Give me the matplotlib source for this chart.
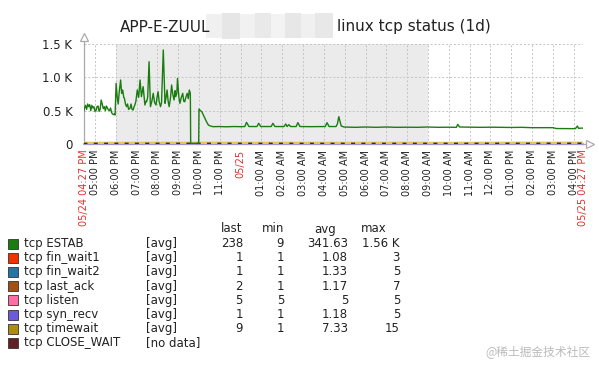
import matplotlib
matplotlib.use("Agg")
import matplotlib.pyplot as plt
from matplotlib.patches import Rectangle
import pandas as pd

# ---------------- data ----------------
title_left = "APP-E-ZUUL"
title_right = "linux tcp status (1d)"
range_start = "2023-05-24 16:27"
range_end = "2023-05-25 16:27"
work_off_start = "2023-05-24 18:00"
work_off_end = "2023-05-25 09:00"

estab_times = [
    "05-24 16:27", "05-24 16:30", "05-24 16:33", "05-24 16:36", "05-24 16:39", "05-24 16:42",
    "05-24 16:45", "05-24 16:48", "05-24 16:51", "05-24 16:54", "05-24 16:57", "05-24 17:00",
    "05-24 17:03", "05-24 17:06", "05-24 17:09", "05-24 17:12", "05-24 17:15", "05-24 17:18",
    "05-24 17:21", "05-24 17:24", "05-24 17:27", "05-24 17:30", "05-24 17:33", "05-24 17:36",
    "05-24 17:39", "05-24 17:42", "05-24 17:45", "05-24 17:48", "05-24 17:51", "05-24 17:54",
    "05-24 17:56", "05-24 17:58", "05-24 18:01", "05-24 18:04", "05-24 18:07", "05-24 18:10",
    "05-24 18:14", "05-24 18:17", "05-24 18:20", "05-24 18:23", "05-24 18:25", "05-24 18:28",
    "05-24 18:31", "05-24 18:34", "05-24 18:37", "05-24 18:41", "05-24 18:44", "05-24 18:47",
    "05-24 18:50", "05-24 18:53", "05-24 18:55", "05-24 18:58", "05-24 19:02", "05-24 19:06",
    "05-24 19:10", "05-24 19:14", "05-24 19:17", "05-24 19:19", "05-24 19:22", "05-24 19:24",
    "05-24 19:27", "05-24 19:29", "05-24 19:32", "05-24 19:36", "05-24 19:40", "05-24 19:44",
    "05-24 19:48", "05-24 19:52", "05-24 19:56", "05-24 19:59", "05-24 20:02", "05-24 20:05",
    "05-24 20:09", "05-24 20:12", "05-24 20:17", "05-24 20:22", "05-24 20:25", "05-24 20:28",
    "05-24 20:31", "05-24 20:34", "05-24 20:38", "05-24 20:41", "05-24 20:44", "05-24 20:48",
    "05-24 20:51", "05-24 20:53", "05-24 20:56", "05-24 20:58", "05-24 21:02", "05-24 21:05",
    "05-24 21:09", "05-24 21:13", "05-24 21:16", "05-24 21:19", "05-24 21:22", "05-24 21:26",
    "05-24 21:29", "05-24 21:32", "05-24 21:35", "05-24 21:36", "05-24 21:59", "05-24 22:00",
    "05-24 22:04", "05-24 22:08", "05-24 22:12", "05-24 22:17", "05-24 22:22", "05-24 22:27",
    "05-24 22:33", "05-24 22:40", "05-24 23:00", "05-24 23:20", "05-24 23:40", "05-25 00:00",
    "05-25 00:12", "05-25 00:17", "05-25 00:24", "05-25 00:47", "05-25 00:52", "05-25 00:58",
    "05-25 01:28", "05-25 01:33", "05-25 01:39", "05-25 02:05", "05-25 02:10", "05-25 02:14",
    "05-25 02:19", "05-25 02:24", "05-25 02:40", "05-25 02:45", "05-25 02:51", "05-25 03:20",
    "05-25 03:50", "05-25 04:04", "05-25 04:09", "05-25 04:15", "05-25 04:35", "05-25 04:39",
    "05-25 04:43", "05-25 04:50", "05-25 04:58", "05-25 05:30", "05-25 06:00", "05-25 06:30",
    "05-25 07:00", "05-25 07:30", "05-25 08:00", "05-25 08:30", "05-25 09:00", "05-25 09:30",
    "05-25 10:00", "05-25 10:22", "05-25 10:26", "05-25 10:31", "05-25 11:00", "05-25 11:30",
    "05-25 12:00", "05-25 12:30", "05-25 13:00", "05-25 13:30", "05-25 14:00", "05-25 14:30",
    "05-25 15:00", "05-25 15:10", "05-25 15:40", "05-25 16:05", "05-25 16:11", "05-25 16:14",
    "05-25 16:20", "05-25 16:27",
]
estab_values = [
    485, 540, 580, 520, 600, 560,
    590, 500, 580, 540, 560, 490,
    500, 560, 570, 490, 520, 660,
    600, 530, 560, 500, 570, 540,
    510, 500, 540, 470, 450, 440,
    450, 435, 910, 710, 600, 780,
    960, 760, 810, 700, 685, 600,
    560, 600, 520, 535, 600, 520,
    510, 560, 585, 640, 810, 700,
    960, 710, 800, 860, 700, 585,
    640, 635, 700, 1235, 560, 640,
    760, 620, 585, 700, 785, 640,
    560, 620, 1410, 610, 700, 810,
    640, 560, 700, 885, 760, 660,
    800, 710, 760, 985, 700, 610,
    700, 760, 640, 635, 700, 760,
    680, 810, 760, 10, 10, 525,
    500, 485, 440, 385, 330, 285,
    270, 260, 262, 258, 262, 260,
    262, 325, 262, 262, 310, 262,
    262, 310, 262, 262, 300, 262,
    290, 262, 262, 320, 262, 260,
    262, 262, 320, 262, 262, 300,
    410, 270, 255, 250, 255, 250,
    255, 250, 252, 250, 255, 250,
    252, 250, 295, 255, 252, 250,
    252, 250, 248, 250, 245, 245,
    245, 232, 230, 230, 270, 235,
    238, 238,
]

small_times = ["05-24 16:27", "05-24 22:00", "05-25 04:00", "05-25 10:00", "05-25 16:27"]
fin_wait1 = [1, 1, 1, 1, 1]
fin_wait2 = [1, 1, 1, 1, 1]
last_ack = [1, 1, 1, 1, 2]
listen = [5, 5, 5, 5, 5]
syn_recv = [1, 1, 1, 1, 1]
timewait = [7, 8, 7, 7, 9]

legend_names = ["tcp ESTAB", "tcp fin_wait1", "tcp fin_wait2", "tcp last_ack",
                "tcp listen", "tcp syn_recv", "tcp timewait", "tcp CLOSE_WAIT"]
legend_func = ["[avg]", "[avg]", "[avg]", "[avg]", "[avg]", "[avg]", "[avg]", "[no data]"]
legend_colors = ["#1A7C11", "#F63100", "#2774A4", "#A54F10",
                 "#FC6EA3", "#6C59DC", "#AC8C14", "#611F27"]
col_last = ["238", "1", "1", "2", "5", "1", "9", ""]
col_min = ["9", "1", "1", "1", "5", "1", "1", ""]
col_avg = ["341.63", "1.08", "1.33", "1.17", "5", "1.18", "7.33", ""]
col_max = ["1.56 K", "3", "5", "7", "5", "5", "15", ""]

y_ticks = [0, 500, 1000, 1500]
y_tick_labels = ["0", "0.5 K", "1.0 K", "1.5 K"]
watermark = "@稀土掘金技术社区"


def to_dt(lst):
    return pd.to_datetime(["2023-" + s for s in lst], format="%Y-%m-%d %H:%M")


# ---------------- figure ----------------
W, H = 599, 370
fig = plt.figure(figsize=(W / 100, H / 100), dpi=100)
fig.patch.set_facecolor("white")

def fx(px):
    return px / W

def fy(py):
    return 1 - py / H

ax = fig.add_axes([fx(83.5), fy(144), fx(583) - fx(83.5), fy(44) - fy(144)])
t0 = pd.Timestamp(range_start)
t1 = pd.Timestamp(range_end)
ax.set_xlim(t0, t1)
ax.set_ylim(0, 1500)
ax.set_facecolor("white")

# work-off shading
ax.axvspan(pd.Timestamp(work_off_start), pd.Timestamp(work_off_end),
           color="#ebebeb", zorder=0, lw=0)

# grid
grid_kw = dict(color="#c4c4c4", lw=0.7, ls=(0, (2, 2)), zorder=1)
hours = pd.date_range("2023-05-24 17:00", "2023-05-25 16:00", freq="1h")
for h in hours:
    ax.axvline(h, **grid_kw)
ax.axvline(t1, **grid_kw)
for yv in y_ticks[1:]:
    ax.axhline(yv, **grid_kw)

# series
st = to_dt(small_times)
ax.plot(st, syn_recv, color="#9a8ee8", lw=1.2, zorder=3, clip_on=False)
ax.plot(st, fin_wait1, color=legend_colors[1], lw=0.8, zorder=3)
ax.plot(st, fin_wait2, color=legend_colors[2], lw=0.8, zorder=3)
ax.plot(st, last_ack, color=legend_colors[3], lw=0.8, zorder=3)
ax.plot(st, listen, color=legend_colors[4], lw=0.8, zorder=3)
ax.plot(st, timewait, color="#e8c45a", lw=2.6, zorder=4)
ax.plot(st, timewait, color="#3a3020", lw=1.3, ls=(0, (2.2, 3.5)), zorder=5)
ax.plot(to_dt(estab_times), estab_values, color=legend_colors[0], lw=1.0, zorder=6)

# spines
for s in ["top", "right"]:
    ax.spines[s].set_visible(False)
for s in ["left", "bottom"]:
    ax.spines[s].set_color("#aaaaaa")
    ax.spines[s].set_linewidth(0.9)
ax.plot([0, 0], [1.0, 1.06], transform=ax.transAxes, color="#aaaaaa", lw=0.9, clip_on=False)
ax.plot([0], [1.07], transform=ax.transAxes, marker="^", ms=6, mfc="white",
        mec="#aaaaaa", mew=0.9, clip_on=False)
ax.plot([1.0, 1.012], [0, 0], transform=ax.transAxes, color="#aaaaaa", lw=0.9, clip_on=False)
ax.plot([1.015], [0], transform=ax.transAxes, marker=">", ms=6, mfc="white",
        mec="#aaaaaa", mew=0.9, clip_on=False)

# y ticks
ax.set_yticks(y_ticks)
ax.set_yticklabels(y_tick_labels, fontsize=8.5, color="#222222")
ax.tick_params(axis="y", length=0, pad=8)

# x ticks
red = "#e0302f"
ticks = [t0] + list(hours) + [t1]
labels = []
colors = []
for t in ticks:
    if t == t0 or t == t1:
        labels.append(t.strftime("%m/%d %I:%M %p"))
        colors.append(red)
    elif t.hour == 0:
        labels.append(t.strftime("%m/%d"))
        colors.append(red)
    else:
        labels.append(t.strftime("%I:%M %p"))
        colors.append("#222222")
ax.set_xticks(ticks)
ax.set_xticklabels(labels, rotation=90, fontsize=7, va="top", ha="center")
for lab, c in zip(ax.get_xticklabels(), colors):
    lab.set_color(c)
ax.tick_params(axis="x", length=0, pad=4)

# title with blurred part
fig.text(fx(120), fy(27), title_left, fontsize=11, color="#222222", va="center", ha="left")
fig.text(fx(337), fy(27), title_right, fontsize=11, color="#222222", va="center", ha="left")
blur = [(206, 14, 20, 24, "#f0f0f0"), (222, 13, 18, 26, "#e6e6e6"), (240, 14, 16, 24, "#f1f1f1"),
        (255, 13, 16, 25, "#e9e9e9"), (271, 14, 14, 24, "#f3f3f3"), (285, 13, 16, 25, "#e7e7e7"),
        (301, 14, 14, 24, "#f0f0f0"), (315, 13, 18, 25, "#e8e8e8")]
for bx, by, bw, bh, bc in blur:
    fig.add_artist(Rectangle((fx(bx), fy(by + bh)), bw / W, bh / H, transform=fig.transFigure,
                             facecolor=bc, edgecolor="none"))

# legend table
hdr_y = 229
fs = 8.5
tc = "#222222"
fig.text(fx(221), fy(hdr_y), "last", fontsize=fs, color=tc, va="center")
fig.text(fx(262), fy(hdr_y), "min", fontsize=fs, color=tc, va="center")
fig.text(fx(314), fy(hdr_y), "avg", fontsize=fs, color=tc, va="center")
fig.text(fx(361), fy(hdr_y), "max", fontsize=fs, color=tc, va="center")
for i, name in enumerate(legend_names):
    yc = 243.5 + i * 14.2
    fig.add_artist(Rectangle((fx(8), fy(yc + 5)), 10 / W, 10 / H, transform=fig.transFigure,
                             facecolor=legend_colors[i], edgecolor="#333333", lw=0.6))
    fig.text(fx(24), fy(yc), name, fontsize=fs, color=tc, va="center")
    fig.text(fx(146), fy(yc), legend_func[i], fontsize=fs, color=tc, va="center")
    fig.text(fx(243), fy(yc), col_last[i], fontsize=fs, color=tc, va="center", ha="right")
    fig.text(fx(284), fy(yc), col_min[i], fontsize=fs, color=tc, va="center", ha="right")
    fig.text(fx(348), fy(yc), col_avg[i], fontsize=fs, color=tc, va="center", ha="right")
    fig.text(fx(400), fy(yc), col_max[i], fontsize=fs, color=tc, va="center", ha="right")

fig.text(fx(590), fy(352), watermark, fontsize=8.5, color="#bbbbbb", va="center", ha="right",
         family=["Noto Sans CJK SC", "DejaVu Sans"])

fig.savefig("out.png", dpi=100)
